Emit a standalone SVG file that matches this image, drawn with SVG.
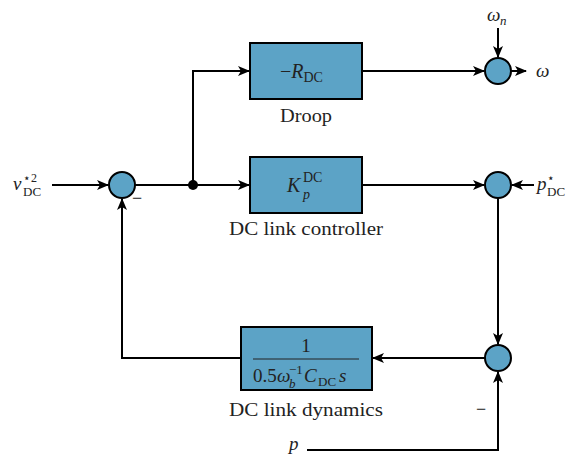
<svg xmlns="http://www.w3.org/2000/svg" width="568" height="455" viewBox="0 0 568 455">
<style>
.blk{fill:#5ca3c6;stroke:#000;stroke-width:2}
.sum{fill:#5ca3c6;stroke:#000;stroke-width:2}
.ln{fill:none;stroke:#000;stroke-width:2}
text{font-family:"Liberation Serif","DejaVu Serif",serif;fill:#222}
.lbl{font-size:18px;text-anchor:middle}
.m{font-style:italic}
</style>
<defs>
<marker id="ar" viewBox="0 0 12 10" refX="11" refY="5" markerWidth="12" markerHeight="10" markerUnits="userSpaceOnUse" orient="auto">
<path d="M0,0 L12,5 L0,10 L3,5 Z" fill="#000"/>
</marker>
</defs>
<g id="connectors">
<path class="ln" d="M52,185 H108" marker-end="url(#ar)"/>
<path class="ln" d="M135,185 H249" marker-end="url(#ar)"/>
<path class="ln" d="M193,185 V71 H249" marker-end="url(#ar)"/>
<path class="ln" d="M362,71 H484" marker-end="url(#ar)"/>
<path class="ln" d="M498,28 V57" marker-end="url(#ar)"/>
<path class="ln" d="M511,71 H526" marker-end="url(#ar)"/>
<path class="ln" d="M362,185 H484" marker-end="url(#ar)"/>
<path class="ln" d="M534,185 H512" marker-end="url(#ar)"/>
<path class="ln" d="M498,198 V344" marker-end="url(#ar)"/>
<path class="ln" d="M485,358 H373" marker-end="url(#ar)"/>
<path class="ln" d="M241,358 H122 V199" marker-end="url(#ar)"/>
<path class="ln" d="M307,450 H498 V372" marker-end="url(#ar)"/>
<circle cx="193" cy="185" r="5" fill="#000"/>
</g>
<g id="sum1"><circle class="sum" cx="122" cy="185" r="13"/><text x="132" y="204" font-size="18">−</text></g>
<g id="sum_omega"><circle class="sum" cx="498" cy="71" r="13"/></g>
<g id="sum_p"><circle class="sum" cx="498" cy="185" r="13"/></g>
<g id="sum_dyn"><circle class="sum" cx="498" cy="358" r="13"/><text x="476" y="415" font-size="18">−</text></g>
<g id="droop">
<rect class="blk" x="250" y="43" width="112" height="56"/>
<text x="280" y="78" font-size="20">−<tspan class="m">R</tspan><tspan font-size="14" dy="4">DC</tspan></text>
<text class="lbl" x="306" y="122" textLength="52" lengthAdjust="spacingAndGlyphs">Droop</text>
</g>
<g id="kp">
<rect class="blk" x="250" y="157" width="112" height="56"/>
<text x="287" y="192" font-size="20" class="m">K</text>
<text x="303" y="199" font-size="14" class="m">p</text>
<text x="303" y="182" font-size="14">DC</text>
<text class="lbl" x="306" y="235" textLength="154" lengthAdjust="spacingAndGlyphs">DC link controller</text>
</g>
<g id="dyn">
<rect class="blk" x="241" y="327" width="131" height="63"/>
<text x="306" y="352" font-size="19" text-anchor="middle">1</text>
<line x1="253" y1="359" x2="359" y2="359" stroke="#222" stroke-width="1.2"/>
<text x="253" y="382" font-size="19">0.5</text>
<text x="277" y="382" font-size="19" class="m">ω</text>
<text x="289" y="374" font-size="13">−1</text>
<text x="289" y="388" font-size="13" class="m">b</text>
<text x="304" y="382" font-size="19" class="m">C</text>
<text x="318" y="386" font-size="13">DC</text>
<text x="339" y="382" font-size="19" class="m">s</text>
<text class="lbl" x="306" y="416" textLength="154" lengthAdjust="spacingAndGlyphs">DC link dynamics</text>
</g>
<g id="labels">
<text x="13" y="190" font-size="19" class="m">v</text>
<text x="23" y="182" font-size="12">⋆2</text>
<text x="23" y="196" font-size="13">DC</text>
<text x="487" y="21" font-size="19" class="m">ω</text>
<text x="500" y="25" font-size="13" class="m">n</text>
<text x="536" y="77" font-size="19" class="m">ω</text>
<text x="537" y="190" font-size="19" class="m">p</text>
<text x="547" y="182" font-size="12">⋆</text>
<text x="547" y="196" font-size="13">DC</text>
<text x="289" y="450" font-size="19" class="m">p</text>
</g>
</svg>
